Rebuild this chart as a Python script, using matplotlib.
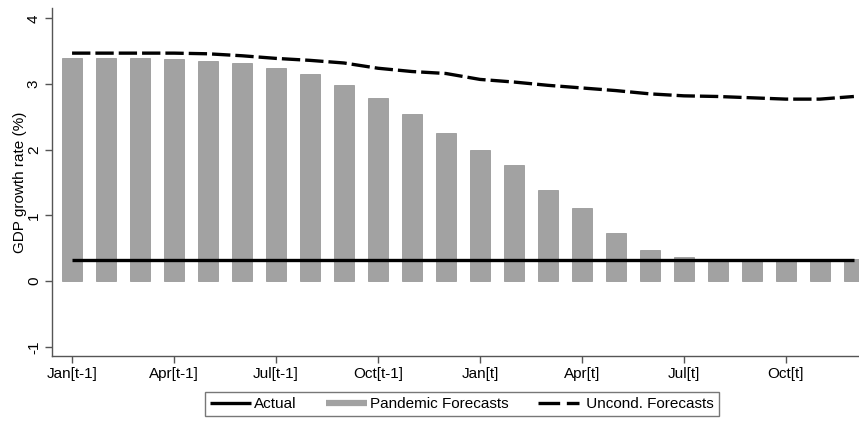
#!/usr/bin/env python3
# GDP growth: pandemic-conditioned vs. unconditional forecasts by forecast month.

import matplotlib
matplotlib.use("Agg")
import matplotlib.pyplot as plt
from matplotlib.lines import Line2D
import numpy as np

plt.rcParams["font.family"] = ["Liberation Sans", "DejaVu Sans"]
plt.rcParams["font.size"] = 11
plt.rcParams["axes.unicode_minus"] = False

# forecast months, Jan[t-1] .. Dec[t]
months = np.arange(24)
tick_months = [0, 3, 6, 9, 12, 15, 18, 21]
tick_labels = ["Jan[t-1]", "Apr[t-1]", "Jul[t-1]", "Oct[t-1]",
               "Jan[t]", "Apr[t]", "Jul[t]", "Oct[t]"]

actual = 0.32
pandemic = [3.40, 3.40, 3.40, 3.38, 3.35, 3.32, 3.24, 3.16, 2.99, 2.79, 2.54, 2.25,
            2.00, 1.77, 1.39, 1.11, 0.73, 0.48, 0.36, 0.33, 0.33, 0.33, 0.33, 0.33]
uncond = [3.47, 3.47, 3.47, 3.47, 3.46, 3.43, 3.39, 3.36, 3.32, 3.24, 3.19, 3.16,
          3.07, 3.03, 2.98, 2.94, 2.90, 2.85, 2.82, 2.81, 2.79, 2.77, 2.77, 2.81]

AXIS = "#555555"
BAR = "#a2a2a2"
DASH = (0, (5.5, 1.5))

fig = plt.figure(figsize=(8.59, 4.22), dpi=100)
ax = fig.add_axes([52 / 859, 66 / 422, 1 - 52 / 859, 348 / 422])

ax.bar(months, pandemic, width=0.59, color=BAR, edgecolor="#8e8e8e",
       linewidth=0.5, zorder=1)
ax.plot([months[0], months[-1]], [actual, actual], color="black",
        linewidth=2.4, solid_capstyle="butt", zorder=3)
ax.plot(months, uncond, color="black", linewidth=2.4, linestyle=DASH,
        dash_capstyle="butt", zorder=3)

ax.set_xlim(-0.59, 23.15)
ax.set_ylim(-1.14, 4.157)
ax.set_yticks([-1, 0, 1, 2, 3, 4])
ax.set_xticks(tick_months)
ax.set_xticklabels(tick_labels)
for lbl in ax.get_yticklabels():
    lbl.set_rotation(90)
    lbl.set_va("center")
ax.set_ylabel("GDP growth rate (%)", labelpad=0)

for side in ("top", "right"):
    ax.spines[side].set_visible(False)
for side in ("left", "bottom"):
    ax.spines[side].set_color(AXIS)
    ax.spines[side].set_linewidth(1.0)
ax.tick_params(direction="out", length=5, width=1.0, color=AXIS, pad=3)

handles = [
    Line2D([], [], color="black", linewidth=2.4, solid_capstyle="butt",
           label="Actual"),
    Line2D([], [], color=BAR, linewidth=4.5, solid_capstyle="butt",
           label="Pandemic Forecasts"),
    Line2D([], [], color="black", linewidth=2.4, linestyle=(0, (6.5, 2.0)),
           dash_capstyle="butt", label=" Uncond. Forecasts"),
]
leg = fig.legend(handles=handles, loc="center", ncol=3,
                 bbox_to_anchor=(462 / 859, 1 - 404 / 422),
                 frameon=True, fancybox=False, handlelength=2.7,
                 handletextpad=0.2, columnspacing=1.9, borderpad=0.35)
leg.get_frame().set_edgecolor(AXIS)
leg.get_frame().set_linewidth(1.0)

fig.savefig("out.png", dpi=100)
